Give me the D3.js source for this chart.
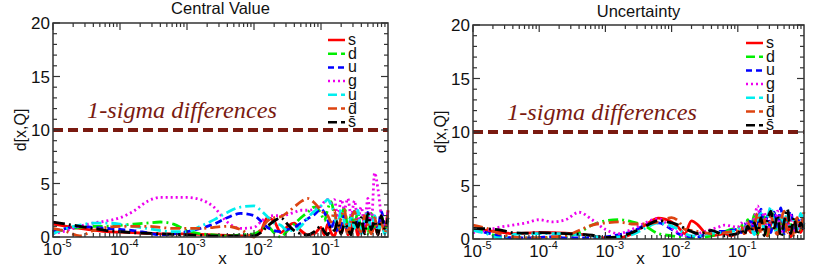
<!DOCTYPE html>
<html>
<head>
<meta charset="utf-8">
<script src="https://cdn.jsdelivr.net/npm/d3@7"></script>
<style>
  body { margin: 0; background: #fff; }
  svg { display: block; }
  text { font-family: "Liberation Sans", Arial, sans-serif; fill: #111; }
</style>
</head>
<body>
<div id="chart"></div>
<script>
// log10(x) sample positions used by every curve
var logX = [-5.0, -4.8, -4.6, -4.4, -4.2, -4.0, -3.8, -3.6, -3.4, -3.2, -3.0, -2.8, -2.6, -2.4, -2.2,
  -2.0, -1.9, -1.8, -1.7, -1.6, -1.5, -1.4, -1.3, -1.2, -1.1, -1.0,
  -0.95, -0.9, -0.85, -0.8, -0.75, -0.7, -0.65, -0.6, -0.55, -0.5, -0.45, -0.4, -0.35, -0.3, -0.25, -0.2, -0.15, -0.1, -0.05, 0];

var flavours = ["s", "d", "u", "g", "u\u0304", "d\u0304", "s\u0304"];
var yTicks = [0, 5, 10, 15, 20];
var xTickExp = [-5, -4, -3, -2, -1];
var sigmaLevel = 10;

// Central Value panel
var cvS    = [1.2, 1.0, 0.8, 0.65, 0.5, 0.45, 0.4, 0.35, 0.3, 0.3, 0.3, 0.25, 0.2, 0.15, 0.1,
  0.1, 0.5, 1.8, 1.5, 0.4, 1.0, 1.3, 0.6, 0.2, 0.3, 0.9,
  0.2, 1.2, 0.4, 0.1, 1.0, 0.3, 1.5, 0.2, 0.8, 1.6, 0.1, 1.2, 0.4, 2.0, 0.3, 1.1, 0.2, 1.8, 0.5, 2.5];
var cvD    = [0.5, 0.7, 0.9, 1.0, 1.0, 1.1, 1.2, 1.3, 1.4, 1.2, 0.6, 0.3, 0.2, 0.1, 0.2,
  0.3, 0.6, 1.0, 0.4, 0.0, 0.6, 1.2, 1.8, 2.3, 2.8, 2.2,
  1.5, 2.6, 3.3, 2.0, 0.8, 1.5, 2.8, 0.9, 2.0, 1.0, 2.4, 0.6, 1.8, 0.3, 2.2, 1.0, 0.4, 2.0, 0.8, 1.5];
var cvU    = [0.5, 0.8, 1.0, 0.9, 0.8, 0.7, 0.6, 0.4, 0.2, 0.3, 0.5, 0.8, 1.2, 1.8, 2.2,
  2.0, 1.5, 0.9, 0.6, 0.5, 0.7, 0.9, 1.3, 1.7, 2.1, 2.6,
  2.3, 1.6, 0.8, 1.5, 0.5, 1.2, 2.0, 0.7, 1.8, 2.4, 1.0, 0.4, 1.6, 2.3, 0.6, 1.9, 0.8, 2.4, 1.2, 1.0];
var cvG    = [0.3, 0.6, 1.0, 1.3, 1.5, 1.8, 2.4, 3.3, 3.7, 3.7, 3.7, 3.5, 2.8, 1.4, 0.8,
  0.9, 1.4, 1.9, 2.0, 2.0, 2.1, 2.3, 2.5, 2.5, 2.6, 2.9,
  3.3, 3.5, 3.2, 3.5, 1.8, 3.5, 2.6, 3.6, 2.0, 3.4, 1.5, 2.8, 1.2, 3.6, 1.0, 6.0, 4.5, 2.0, 1.0, 2.5];
var cvUbar = [0.3, 0.8, 1.1, 1.3, 1.3, 1.2, 1.0, 0.8, 0.6, 0.5, 0.5, 1.0, 1.6, 2.3, 2.8,
  2.9, 2.5, 1.9, 1.3, 1.1, 0.6, 0.6, 1.0, 1.8, 2.4, 2.9,
  3.2, 3.5, 3.0, 2.2, 1.0, 2.6, 1.4, 0.4, 2.0, 0.8, 2.5, 0.3, 1.5, 2.3, 0.5, 2.0, 0.6, 1.4, 0.3, 1.8];
var cvDbar = [0.8, 0.5, 0.1, 0.6, 0.9, 1.0, 1.0, 1.0, 0.9, 0.8, 0.8, 0.8, 0.9, 1.0, 0.7,
  0.0, 0.7, 1.5, 1.8, 1.9, 2.3, 2.8, 3.3, 3.6, 3.2, 2.5,
  2.2, 2.0, 1.4, 2.5, 0.8, 1.8, 2.6, 0.4, 1.6, 2.4, 1.0, 0.5, 2.0, 1.2, 0.3, 1.8, 0.6, 1.3, 0.4, 2.2];
var cvSbar = [1.4, 1.2, 1.0, 0.8, 0.6, 0.5, 0.4, 0.35, 0.3, 0.25, 0.2, 0.15, 0.1, 0.1, 0.1,
  0.1, 0.4, 1.0, 1.5, 1.8, 1.2, 0.6, 0.3, 0.2, 0.5, 1.0,
  0.5, 0.2, 1.0, 0.6, 1.5, 0.3, 1.2, 0.8, 0.2, 1.6, 0.9, 1.8, 0.3, 2.2, 0.7, 1.5, 0.2, 2.0, 0.8, 1.8];

// Uncertainty panel
var unS    = [0.9, 0.8, 0.65, 0.5, 0.55, 0.6, 0.6, 0.55, 0.45, 0.3, 0.1, 0.1, 0.5, 1.3, 1.95,
  1.6, 1.1, 0.5, 1.7, 1.3, 0.6, 0.3, 0.4, 0.5, 0.3, 0.6,
  0.8, 0.5, 1.0, 0.6, 1.2, 0.4, 1.8, 0.9, 0.3, 1.4, 2.2, 0.4, 1.6, 0.6, 1.9, 0.2, 1.3, 2.0, 0.6, 1.5];
var unD    = [1.0, 0.6, 0.2, 0.1, 0.1, 0.1, 0.15, 0.2, 0.6, 1.3, 1.7, 1.8, 1.6, 1.2, 0.5,
  0.3, 0.2, 0.2, 0.1, 0.1, 0.2, 0.3, 0.5, 0.7, 0.9, 1.0,
  1.4, 0.6, 1.8, 0.9, 2.3, 0.5, 1.6, 2.1, 0.3, 1.2, 2.4, 0.8, 1.9, 0.4, 2.0, 1.3, 0.5, 1.8, 0.9, 1.3];
var unU    = [0.8, 0.6, 0.3, 0.1, 0.1, 0.15, 0.2, 0.1, 0.1, 0.15, 0.2, 0.4, 0.7, 1.3, 1.5,
  0.9, 0.5, 0.3, 0.2, 0.2, 0.4, 0.6, 0.7, 0.7, 0.8, 0.9,
  0.6, 1.4, 0.8, 1.9, 0.5, 1.2, 2.8, 1.0, 2.2, 0.6, 2.5, 1.1, 2.9, 0.5, 1.8, 2.6, 0.8, 1.5, 2.0, 1.0];
var unG    = [0.6, 0.8, 1.1, 1.3, 1.5, 1.8, 1.6, 1.8, 2.5, 1.8, 0.9, 0.5, 0.9, 1.5, 1.9,
  1.0, 0.6, 0.3, 0.3, 0.5, 0.7, 0.9, 1.1, 1.3, 1.2, 1.1,
  1.5, 0.8, 1.6, 1.2, 2.0, 3.1, 1.5, 2.5, 0.8, 2.0, 1.2, 2.6, 0.5, 1.8, 1.0, 2.2, 0.6, 1.6, 0.9, 1.4];
var unUbar = [0.8, 0.5, 0.1, 0.4, 0.5, 0.5, 0.5, 0.5, 0.4, 0.3, 0.1, 0.2, 0.4, 1.0, 1.5,
  1.2, 0.9, 0.5, 0.3, 0.3, 0.4, 0.5, 0.6, 0.6, 0.7, 0.8,
  1.0, 0.6, 1.5, 1.1, 0.4, 1.7, 2.4, 0.8, 2.0, 3.0, 1.2, 0.5, 2.2, 1.4, 2.6, 0.6, 1.9, 0.9, 2.4, 1.2];
var unDbar = [1.3, 1.0, 0.5, 0.2, 0.1, 0.1, 0.2, 0.3, 0.8, 1.3, 1.5, 1.6, 1.4, 1.4, 1.6,
  2.0, 1.7, 0.9, 0.8, 0.7, 0.6, 0.5, 0.5, 0.6, 0.7, 0.8,
  1.1, 0.5, 1.6, 0.7, 1.2, 2.4, 0.5, 1.8, 0.3, 2.2, 1.0, 0.4, 1.7, 2.6, 0.6, 1.3, 0.2, 2.0, 1.1, 2.6];
var unSbar = [1.0, 0.95, 0.85, 0.6, 0.55, 0.6, 0.55, 0.5, 0.45, 0.35, 0.15, 0.2, 0.6, 1.2, 1.7,
  1.5, 1.3, 1.0, 0.7, 0.5, 0.6, 0.8, 0.6, 0.3, 0.4, 0.5,
  0.9, 0.4, 1.2, 0.7, 1.5, 0.6, 2.0, 0.3, 1.8, 2.6, 1.0, 2.2, 0.2, 1.6, 2.8, 0.5, 2.0, 0.4, 1.5, 0.8];

var colors = ["#ff0000", "#00ee00", "#0000ff", "#ee00ee", "#00eeee", "#dd4411", "#000000"];
var dashes = [null, "10,4,2,4", "7,4", "2,3", "10,4,2,4", "10,4,2,4", "12,4,2,4"];
var legendDash = [null, "9,4,3,0", "6,4", "2,3", "9,4,3,0", "9,4,3,0", "9,4,3,0"];

var svg = d3.select("#chart").append("svg")
  .attr("width", 822)
  .attr("height", 269);

function drawPanel(p) {
  var x = d3.scaleLog().domain([1e-5, 1]).range([p.left, p.right]);
  var y = d3.scaleLinear().domain([0, 20]).range([p.bottom, p.top]);
  var g = svg.append("g");

  // curves
  var line = d3.line()
    .x(function(d) { return x(Math.pow(10, d[0])); })
    .y(function(d) { return y(d[1]); })
    .curve(d3.curveMonotoneX);

  p.series.forEach(function(vals, i) {
    var pts = logX.map(function(e, k) { return [e, vals[k]]; });
    g.append("path")
      .attr("d", line(pts))
      .attr("fill", "none")
      .attr("stroke", colors[i])
      .attr("stroke-width", 2.8)
      .attr("stroke-dasharray", dashes[i]);
  });

  // 1-sigma line
  g.append("line")
    .attr("x1", p.left).attr("x2", p.right)
    .attr("y1", y(sigmaLevel)).attr("y2", y(sigmaLevel))
    .attr("stroke", "#7a1a10")
    .attr("stroke-width", 4)
    .attr("stroke-dasharray", "10,5");

  g.append("text")
    .attr("x", p.left + 34)
    .attr("y", y(sigmaLevel) - 12)
    .attr("textLength", 190)
    .attr("lengthAdjust", "spacingAndGlyphs")
    .style("font-family", "'Liberation Serif', 'DejaVu Serif', serif")
    .style("font-style", "italic")
    .style("font-size", "23px")
    .style("fill", "#7a1a10")
    .text("1-sigma differences");

  // frame
  g.append("rect")
    .attr("x", p.left).attr("y", p.top)
    .attr("width", p.right - p.left).attr("height", p.bottom - p.top)
    .attr("fill", "none").attr("stroke", "#333").attr("stroke-width", 1.5);

  // y ticks (inward on both sides)
  d3.range(0, 21, 1).forEach(function(v) {
    var len = v % 5 === 0 ? 7 : 4;
    g.append("line").attr("x1", p.left).attr("x2", p.left + len)
      .attr("y1", y(v)).attr("y2", y(v)).attr("stroke", "#333").attr("stroke-width", 1.2);
    g.append("line").attr("x1", p.right).attr("x2", p.right - len)
      .attr("y1", y(v)).attr("y2", y(v)).attr("stroke", "#333").attr("stroke-width", 1.2);
  });
  yTicks.forEach(function(v) {
    g.append("text")
      .attr("x", p.left - 3).attr("y", y(v) + 6)
      .attr("text-anchor", "end")
      .style("font-size", "17px")
      .text(v);
  });

  // x ticks, major at decades and minor in between, top and bottom
  xTickExp.forEach(function(e) {
    for (var m = 1; m < 10; m++) {
      var xv = x(m * Math.pow(10, e));
      var len = m === 1 ? 7 : 4;
      g.append("line").attr("x1", xv).attr("x2", xv)
        .attr("y1", p.top).attr("y2", p.top + len).attr("stroke", "#333").attr("stroke-width", 1.2);
      g.append("line").attr("x1", xv).attr("x2", xv)
        .attr("y1", p.bottom).attr("y2", p.bottom - len).attr("stroke", "#333").attr("stroke-width", 1.2);
    }
    var t = g.append("text")
      .attr("x", x(Math.pow(10, e)) - 10)
      .attr("y", p.bottom + 18)
      .style("font-size", "17px");
    t.append("tspan").text("10");
    t.append("tspan").attr("dy", -8).style("font-size", "11px").text(String(e));
  });

  // axis titles
  g.append("text")
    .attr("x", (p.left + p.right) / 2).attr("y", p.titleY)
    .attr("text-anchor", "middle")
    .style("font-size", "16.5px")
    .text(p.title);
  g.append("text")
    .attr("x", (p.left + p.right) / 2 + 2).attr("y", 264)
    .attr("text-anchor", "middle")
    .style("font-size", "17px")
    .text("x");
  g.append("text")
    .attr("transform", "translate(" + (p.left - 27) + "," + ((p.top + p.bottom) / 2) + ") rotate(-90)")
    .attr("text-anchor", "middle")
    .style("font-size", "16px")
    .text("d[x,Q]");

  // legend
  flavours.forEach(function(name, i) {
    var ly = p.legendTop + i * 13.7;
    g.append("line")
      .attr("x1", p.legendX).attr("x2", p.legendX + 17)
      .attr("y1", ly).attr("y2", ly)
      .attr("stroke", colors[i]).attr("stroke-width", 2.5)
      .attr("stroke-dasharray", legendDash[i]);
    g.append("text")
      .attr("x", p.legendX + 20).attr("y", ly + 5)
      .style("font-size", "16px")
      .text(name);
  });
}

drawPanel({
  left: 53, right: 388, top: 23, bottom: 237,
  title: "Central Value", titleY: 14,
  legendX: 328, legendTop: 40,
  series: [cvS, cvD, cvU, cvG, cvUbar, cvDbar, cvSbar]
});

drawPanel({
  left: 473, right: 804, top: 25, bottom: 239,
  title: "Uncertainty", titleY: 17,
  legendX: 746, legendTop: 43,
  series: [unS, unD, unU, unG, unUbar, unDbar, unSbar]
});
</script>
</body>
</html>
